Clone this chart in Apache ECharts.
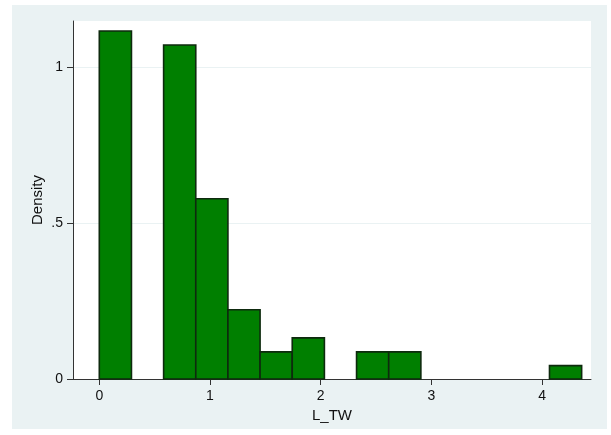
<!DOCTYPE html>
<html>
<head>
<meta charset="utf-8">
<script src="https://cdn.jsdelivr.net/npm/echarts@6/dist/echarts.min.js"></script>
<style>html,body{margin:0;padding:0;background:#fff;}#c{width:611px;height:435px;}</style>
</head>
<body>
<div id="c"></div>
<script>
// Histogram of L_TW (bin width ~0.2905, start 0)
var binStarts = [0, 0.2905, 0.581, 0.8715, 1.162, 1.4525, 1.743, 2.0335, 2.324, 2.6145, 2.905, 3.1955, 3.486, 3.7765, 4.067];
var binWidth = 0.2905;
var density = [1.116, 0, 1.071, 0.578, 0.222, 0.087, 0.132, 0, 0.087, 0.087, 0, 0, 0, 0, 0.043];
var xTicks = [0, 1, 2, 3, 4];
var yTicks = [0, 0.5, 1];
var yTickLabels = ['0', '.5', '1'];

var data = [];
for (var i = 0; i < binStarts.length; i++) {
  if (density[i] > 0) data.push([binStarts[i], binStarts[i] + binWidth, density[i]]);
}

var chart = echarts.init(document.getElementById('c'), null, {renderer: 'canvas'});
var font = 'Liberation Sans, Arial, sans-serif';
chart.setOption({
  backgroundColor: '#ffffff',
  animation: false,
  graphic: [{
    type: 'rect', z: -10, silent: true,
    shape: {x: 12, y: 5, width: 595, height: 424},
    style: {fill: '#EAF2F3'}
  }],
  grid: {left: 73, right: 20, top: 21, bottom: 56, show: true, backgroundColor: '#ffffff', borderWidth: 0},
  xAxis: {
    type: 'value', min: -0.2376, max: 4.442,
    name: 'L_TW', nameLocation: 'middle', nameGap: 25,
    nameTextStyle: {color: '#111', fontSize: 15, fontFamily: font},
    axisLine: {show: true, onZero: false, lineStyle: {color: '#333', width: 1}},
    axisTick: {show: true, length: 6, customValues: xTicks, lineStyle: {color: '#333'}},
    axisLabel: {customValues: xTicks, margin: 10, color: '#111', fontSize: 14, fontFamily: font},
    splitLine: {show: false}
  },
  yAxis: {
    type: 'value', min: 0, max: 1.148,
    name: 'Density', nameLocation: 'middle', nameGap: 28, nameRotate: 90, nameMoveOverlap: false,
    nameTextStyle: {color: '#111', fontSize: 15, fontFamily: font},
    axisLine: {show: true, onZero: false, lineStyle: {color: '#333', width: 1}},
    axisTick: {show: true, length: 6, customValues: yTicks, lineStyle: {color: '#333'}},
    axisLabel: {customValues: yTicks, margin: 10, color: '#111', fontSize: 14, fontFamily: font,
      formatter: function (v) { var k = yTicks.indexOf(v); return k >= 0 ? yTickLabels[k] : ''; }},
    splitLine: {show: true, customValues: yTicks, lineStyle: {color: '#EAF2F3', width: 1}}
  },
  series: [{
    type: 'custom',
    data: data,
    encode: {x: [0, 1], y: 2},
    renderItem: function (params, api) {
      var p0 = api.coord([api.value(0), 0]);
      var p1 = api.coord([api.value(1), api.value(2)]);
      return {
        type: 'rect',
        shape: {x: p0[0], y: p1[1], width: p1[0] - p0[0], height: p0[1] - p1[1]},
        style: {fill: '#007F00', stroke: '#0E2A0E', lineWidth: 1.6}
      };
    }
  }]
});
</script>
</body>
</html>
